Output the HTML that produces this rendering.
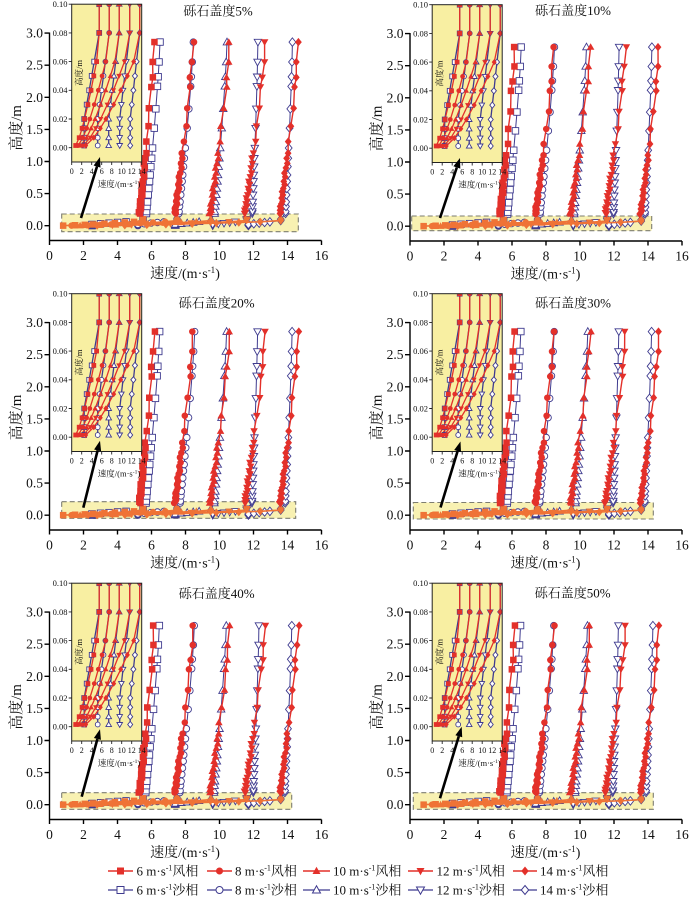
<!DOCTYPE html>
<html><head><meta charset="utf-8">
<style>
html,body{margin:0;padding:0;background:#fff;}
svg{display:block;}
text{font-family:"Liberation Serif","Noto Serif CJK SC","Noto Sans CJK SC",serif;fill:#111;}
</style></head>
<body>
<svg id="s" width="700" height="902" viewBox="0 0 700 902" xmlns="http://www.w3.org/2000/svg">
<defs><clipPath id="ic"><rect x="71.7" y="4.2" width="70" height="157.8"/></clipPath></defs>
<rect width="700" height="902" fill="#fff"/>

<g id="p1" transform="translate(0,0)"><g class="u"></g><g class="o"></g>
<text font-size="13.5" text-anchor="end"><tspan x="43" y="230.2">0.0</tspan><tspan x="43" y="198.1">0.5</tspan><tspan x="43" y="166">1.0</tspan><tspan x="43" y="133.9">1.5</tspan><tspan x="43" y="101.8">2.0</tspan><tspan x="43" y="69.7">2.5</tspan><tspan x="43" y="37.6">3.0</tspan></text>
<text font-size="13.5" text-anchor="middle"><tspan x="49.5" y="260">0</tspan><tspan x="83.5" y="260">2</tspan><tspan x="117.5" y="260">4</tspan><tspan x="151.5" y="260">6</tspan><tspan x="185.5" y="260">8</tspan><tspan x="219.5" y="260">10</tspan><tspan x="253.5" y="260">12</tspan><tspan x="287.5" y="260">14</tspan><tspan x="321.5" y="260">16</tspan></text>
<text font-size="14" text-anchor="middle" x="185" y="278">速度/(m·s<tspan font-size="9" dy="-5">-1</tspan><tspan dy="5">)</tspan></text>
<text font-size="15" text-anchor="middle" transform="translate(21,128) rotate(-90)">高度/m</text>
<text font-size="8.5" text-anchor="end"><tspan x="67.5" y="150.6">0.00</tspan><tspan x="67.5" y="121.9">0.02</tspan><tspan x="67.5" y="93.2">0.04</tspan><tspan x="67.5" y="64.5">0.06</tspan><tspan x="67.5" y="35.8">0.08</tspan><tspan x="67.5" y="7.1">0.10</tspan></text>
<text font-size="8" text-anchor="middle"><tspan x="71.7" y="174">0</tspan><tspan x="81.7" y="174">2</tspan><tspan x="91.7" y="174">4</tspan><tspan x="101.7" y="174">6</tspan><tspan x="111.7" y="174">8</tspan><tspan x="121.7" y="174">10</tspan><tspan x="131.7" y="174">12</tspan><tspan x="141.7" y="174">14</tspan></text>
<text font-size="8.5" text-anchor="middle" x="119" y="187">速度/(m·s<tspan font-size="5.5" dy="-3">-1</tspan><tspan dy="3">)</tspan></text>
<text font-size="8.5" text-anchor="middle" transform="translate(82,73) rotate(-90)">高度/m</text>
<text font-size="13" text-anchor="middle" x="218" y="15.5">砾石盖度5%</text>
</g>

<g id="p2" transform="translate(360.5,0.5)"><g class="u"></g><g class="o"></g>
<text font-size="13.5" text-anchor="end"><tspan x="43" y="230.2">0.0</tspan><tspan x="43" y="198.1">0.5</tspan><tspan x="43" y="166">1.0</tspan><tspan x="43" y="133.9">1.5</tspan><tspan x="43" y="101.8">2.0</tspan><tspan x="43" y="69.7">2.5</tspan><tspan x="43" y="37.6">3.0</tspan></text>
<text font-size="13.5" text-anchor="middle"><tspan x="49.5" y="260">0</tspan><tspan x="83.5" y="260">2</tspan><tspan x="117.5" y="260">4</tspan><tspan x="151.5" y="260">6</tspan><tspan x="185.5" y="260">8</tspan><tspan x="219.5" y="260">10</tspan><tspan x="253.5" y="260">12</tspan><tspan x="287.5" y="260">14</tspan><tspan x="321.5" y="260">16</tspan></text>
<text font-size="14" text-anchor="middle" x="185" y="278">速度/(m·s<tspan font-size="9" dy="-5">-1</tspan><tspan dy="5">)</tspan></text>
<text font-size="15" text-anchor="middle" transform="translate(21,128) rotate(-90)">高度/m</text>
<text font-size="8.5" text-anchor="end"><tspan x="67.5" y="150.6">0.00</tspan><tspan x="67.5" y="121.9">0.02</tspan><tspan x="67.5" y="93.2">0.04</tspan><tspan x="67.5" y="64.5">0.06</tspan><tspan x="67.5" y="35.8">0.08</tspan><tspan x="67.5" y="7.1">0.10</tspan></text>
<text font-size="8" text-anchor="middle"><tspan x="71.7" y="174">0</tspan><tspan x="81.7" y="174">2</tspan><tspan x="91.7" y="174">4</tspan><tspan x="101.7" y="174">6</tspan><tspan x="111.7" y="174">8</tspan><tspan x="121.7" y="174">10</tspan><tspan x="131.7" y="174">12</tspan><tspan x="141.7" y="174">14</tspan></text>
<text font-size="8.5" text-anchor="middle" x="119" y="187">速度/(m·s<tspan font-size="5.5" dy="-3">-1</tspan><tspan dy="3">)</tspan></text>
<text font-size="8.5" text-anchor="middle" transform="translate(82,73) rotate(-90)">高度/m</text>
<text font-size="13" text-anchor="middle" x="212.5" y="14.5">砾石盖度10%</text>
</g>

<g id="p3" transform="translate(0,289.5)"><g class="u"></g><g class="o"></g>
<text font-size="13.5" text-anchor="end"><tspan x="43" y="230.2">0.0</tspan><tspan x="43" y="198.1">0.5</tspan><tspan x="43" y="166">1.0</tspan><tspan x="43" y="133.9">1.5</tspan><tspan x="43" y="101.8">2.0</tspan><tspan x="43" y="69.7">2.5</tspan><tspan x="43" y="37.6">3.0</tspan></text>
<text font-size="13.5" text-anchor="middle"><tspan x="49.5" y="260">0</tspan><tspan x="83.5" y="260">2</tspan><tspan x="117.5" y="260">4</tspan><tspan x="151.5" y="260">6</tspan><tspan x="185.5" y="260">8</tspan><tspan x="219.5" y="260">10</tspan><tspan x="253.5" y="260">12</tspan><tspan x="287.5" y="260">14</tspan><tspan x="321.5" y="260">16</tspan></text>
<text font-size="14" text-anchor="middle" x="185" y="278">速度/(m·s<tspan font-size="9" dy="-5">-1</tspan><tspan dy="5">)</tspan></text>
<text font-size="15" text-anchor="middle" transform="translate(21,128) rotate(-90)">高度/m</text>
<text font-size="8.5" text-anchor="end"><tspan x="67.5" y="150.6">0.00</tspan><tspan x="67.5" y="121.9">0.02</tspan><tspan x="67.5" y="93.2">0.04</tspan><tspan x="67.5" y="64.5">0.06</tspan><tspan x="67.5" y="35.8">0.08</tspan><tspan x="67.5" y="7.1">0.10</tspan></text>
<text font-size="8" text-anchor="middle"><tspan x="71.7" y="174">0</tspan><tspan x="81.7" y="174">2</tspan><tspan x="91.7" y="174">4</tspan><tspan x="101.7" y="174">6</tspan><tspan x="111.7" y="174">8</tspan><tspan x="121.7" y="174">10</tspan><tspan x="131.7" y="174">12</tspan><tspan x="141.7" y="174">14</tspan></text>
<text font-size="8.5" text-anchor="middle" x="119" y="187">速度/(m·s<tspan font-size="5.5" dy="-3">-1</tspan><tspan dy="3">)</tspan></text>
<text font-size="8.5" text-anchor="middle" transform="translate(82,73) rotate(-90)">高度/m</text>
<text font-size="13" text-anchor="middle" x="216.7" y="18">砾石盖度20%</text>
</g>

<g id="p4" transform="translate(360.5,289.5)"><g class="u"></g><g class="o"></g>
<text font-size="13.5" text-anchor="end"><tspan x="43" y="230.2">0.0</tspan><tspan x="43" y="198.1">0.5</tspan><tspan x="43" y="166">1.0</tspan><tspan x="43" y="133.9">1.5</tspan><tspan x="43" y="101.8">2.0</tspan><tspan x="43" y="69.7">2.5</tspan><tspan x="43" y="37.6">3.0</tspan></text>
<text font-size="13.5" text-anchor="middle"><tspan x="49.5" y="260">0</tspan><tspan x="83.5" y="260">2</tspan><tspan x="117.5" y="260">4</tspan><tspan x="151.5" y="260">6</tspan><tspan x="185.5" y="260">8</tspan><tspan x="219.5" y="260">10</tspan><tspan x="253.5" y="260">12</tspan><tspan x="287.5" y="260">14</tspan><tspan x="321.5" y="260">16</tspan></text>
<text font-size="14" text-anchor="middle" x="185" y="278">速度/(m·s<tspan font-size="9" dy="-5">-1</tspan><tspan dy="5">)</tspan></text>
<text font-size="15" text-anchor="middle" transform="translate(21,128) rotate(-90)">高度/m</text>
<text font-size="8.5" text-anchor="end"><tspan x="67.5" y="150.6">0.00</tspan><tspan x="67.5" y="121.9">0.02</tspan><tspan x="67.5" y="93.2">0.04</tspan><tspan x="67.5" y="64.5">0.06</tspan><tspan x="67.5" y="35.8">0.08</tspan><tspan x="67.5" y="7.1">0.10</tspan></text>
<text font-size="8" text-anchor="middle"><tspan x="71.7" y="174">0</tspan><tspan x="81.7" y="174">2</tspan><tspan x="91.7" y="174">4</tspan><tspan x="101.7" y="174">6</tspan><tspan x="111.7" y="174">8</tspan><tspan x="121.7" y="174">10</tspan><tspan x="131.7" y="174">12</tspan><tspan x="141.7" y="174">14</tspan></text>
<text font-size="8.5" text-anchor="middle" x="119" y="187">速度/(m·s<tspan font-size="5.5" dy="-3">-1</tspan><tspan dy="3">)</tspan></text>
<text font-size="8.5" text-anchor="middle" transform="translate(82,73) rotate(-90)">高度/m</text>
<text font-size="13" text-anchor="middle" x="212.5" y="18">砾石盖度30%</text>
</g>

<g id="p5" transform="translate(0,579)"><g class="u"></g><g class="o"></g>
<text font-size="13.5" text-anchor="end"><tspan x="43" y="230.2">0.0</tspan><tspan x="43" y="198.1">0.5</tspan><tspan x="43" y="166">1.0</tspan><tspan x="43" y="133.9">1.5</tspan><tspan x="43" y="101.8">2.0</tspan><tspan x="43" y="69.7">2.5</tspan><tspan x="43" y="37.6">3.0</tspan></text>
<text font-size="13.5" text-anchor="middle"><tspan x="49.5" y="260">0</tspan><tspan x="83.5" y="260">2</tspan><tspan x="117.5" y="260">4</tspan><tspan x="151.5" y="260">6</tspan><tspan x="185.5" y="260">8</tspan><tspan x="219.5" y="260">10</tspan><tspan x="253.5" y="260">12</tspan><tspan x="287.5" y="260">14</tspan><tspan x="321.5" y="260">16</tspan></text>
<text font-size="14" text-anchor="middle" x="185" y="278">速度/(m·s<tspan font-size="9" dy="-5">-1</tspan><tspan dy="5">)</tspan></text>
<text font-size="15" text-anchor="middle" transform="translate(21,128) rotate(-90)">高度/m</text>
<text font-size="8.5" text-anchor="end"><tspan x="67.5" y="150.6">0.00</tspan><tspan x="67.5" y="121.9">0.02</tspan><tspan x="67.5" y="93.2">0.04</tspan><tspan x="67.5" y="64.5">0.06</tspan><tspan x="67.5" y="35.8">0.08</tspan><tspan x="67.5" y="7.1">0.10</tspan></text>
<text font-size="8" text-anchor="middle"><tspan x="71.7" y="174">0</tspan><tspan x="81.7" y="174">2</tspan><tspan x="91.7" y="174">4</tspan><tspan x="101.7" y="174">6</tspan><tspan x="111.7" y="174">8</tspan><tspan x="121.7" y="174">10</tspan><tspan x="131.7" y="174">12</tspan><tspan x="141.7" y="174">14</tspan></text>
<text font-size="8.5" text-anchor="middle" x="119" y="187">速度/(m·s<tspan font-size="5.5" dy="-3">-1</tspan><tspan dy="3">)</tspan></text>
<text font-size="8.5" text-anchor="middle" transform="translate(82,73) rotate(-90)">高度/m</text>
<text font-size="13" text-anchor="middle" x="216.7" y="19">砾石盖度40%</text>
</g>

<g id="p6" transform="translate(360.5,579)"><g class="u"></g><g class="o"></g>
<text font-size="13.5" text-anchor="end"><tspan x="43" y="230.2">0.0</tspan><tspan x="43" y="198.1">0.5</tspan><tspan x="43" y="166">1.0</tspan><tspan x="43" y="133.9">1.5</tspan><tspan x="43" y="101.8">2.0</tspan><tspan x="43" y="69.7">2.5</tspan><tspan x="43" y="37.6">3.0</tspan></text>
<text font-size="13.5" text-anchor="middle"><tspan x="49.5" y="260">0</tspan><tspan x="83.5" y="260">2</tspan><tspan x="117.5" y="260">4</tspan><tspan x="151.5" y="260">6</tspan><tspan x="185.5" y="260">8</tspan><tspan x="219.5" y="260">10</tspan><tspan x="253.5" y="260">12</tspan><tspan x="287.5" y="260">14</tspan><tspan x="321.5" y="260">16</tspan></text>
<text font-size="14" text-anchor="middle" x="185" y="278">速度/(m·s<tspan font-size="9" dy="-5">-1</tspan><tspan dy="5">)</tspan></text>
<text font-size="15" text-anchor="middle" transform="translate(21,128) rotate(-90)">高度/m</text>
<text font-size="8.5" text-anchor="end"><tspan x="67.5" y="150.6">0.00</tspan><tspan x="67.5" y="121.9">0.02</tspan><tspan x="67.5" y="93.2">0.04</tspan><tspan x="67.5" y="64.5">0.06</tspan><tspan x="67.5" y="35.8">0.08</tspan><tspan x="67.5" y="7.1">0.10</tspan></text>
<text font-size="8" text-anchor="middle"><tspan x="71.7" y="174">0</tspan><tspan x="81.7" y="174">2</tspan><tspan x="91.7" y="174">4</tspan><tspan x="101.7" y="174">6</tspan><tspan x="111.7" y="174">8</tspan><tspan x="121.7" y="174">10</tspan><tspan x="131.7" y="174">12</tspan><tspan x="141.7" y="174">14</tspan></text>
<text font-size="8.5" text-anchor="middle" x="119" y="187">速度/(m·s<tspan font-size="5.5" dy="-3">-1</tspan><tspan dy="3">)</tspan></text>
<text font-size="8.5" text-anchor="middle" transform="translate(82,73) rotate(-90)">高度/m</text>
<text font-size="13" text-anchor="middle" x="212.2" y="18.5">砾石盖度50%</text>
</g>

<g id="leg"></g>
<g font-size="13">
<text x="136.5" y="875.5">6 m·s<tspan font-size="8" dy="-5">-1</tspan><tspan dy="5">风相</tspan></text>
<text x="235" y="875.5">8 m·s<tspan font-size="8" dy="-5">-1</tspan><tspan dy="5">风相</tspan></text>
<text x="333" y="875.5">10 m·s<tspan font-size="8" dy="-5">-1</tspan><tspan dy="5">风相</tspan></text>
<text x="436.5" y="875.5">12 m·s<tspan font-size="8" dy="-5">-1</tspan><tspan dy="5">风相</tspan></text>
<text x="540" y="875.5">14 m·s<tspan font-size="8" dy="-5">-1</tspan><tspan dy="5">风相</tspan></text>
<text x="136.5" y="894.5">6 m·s<tspan font-size="8" dy="-5">-1</tspan><tspan dy="5">沙相</tspan></text>
<text x="235" y="894.5">8 m·s<tspan font-size="8" dy="-5">-1</tspan><tspan dy="5">沙相</tspan></text>
<text x="333" y="894.5">10 m·s<tspan font-size="8" dy="-5">-1</tspan><tspan dy="5">沙相</tspan></text>
<text x="436.5" y="894.5">12 m·s<tspan font-size="8" dy="-5">-1</tspan><tspan dy="5">沙相</tspan></text>
<text x="540" y="894.5">14 m·s<tspan font-size="8" dy="-5">-1</tspan><tspan dy="5">沙相</tspan></text>
</g>
</svg>

<script>
(function(){
const RED='#e3302a', ORG='#ef7336', NAV='#3f3b8f';
const X=u=>49.5+17*u, Y=z=>225.7-64.2*z;
const IX=u=>71.7+5*u, IY=z=>147.7-1435*z;
const HI=[0.0015,0.007,0.0135,0.02,0.03,0.04,0.05,0.06,0.08,0.10];
const HMS=[0.19,0.22,0.30,0.37,0.48,0.58,0.69,0.79,0.92,1.05,1.21,1.52,1.82,2.17,2.32,2.55,2.86];
const HMW=[0.19,0.21,0.24,0.27,0.30,0.34,0.38,0.43,0.48,0.53,0.58,0.64,0.69,0.76,0.82,0.90,0.97,1.05,1.13,1.31,1.55,1.83,2.16,2.31,2.55,2.86];
const r0=[0.8,1.3,1.8,2.3,2.8], T=[5.5,7.5,9.5,11.6,13.6], s0=[2.5,5.2,7.4,9.6,11.7];
const Rb=[5.3,7.38,9.44,11.5,13.56], Rt=[6.15,8.45,10.6,12.68,14.64];
const Sb=[5.7,7.65,9.7,11.95,13.85], St=[6.5,8.5,10.42,12.28,14.25];
function sh(z,zt){const t=Math.max(0,Math.min(1,(z-0.19)/(zt-0.19)));return 1-Math.pow(1-t,1.25);}
function sand(k,z,zt){
  if(z<=0.02) return s0[k];
  if(z<=0.08) return s0[k]+(T[k]-s0[k])*(z-0.02)/0.06;
  if(z<=0.1) return T[k];
  if(z<0.19) return T[k]+(Sb[k]-T[k])*(z-0.1)/0.09;
  return Sb[k]+(St[k]-Sb[k])*sh(z,zt);
}
function wind(k,z,zt){
  if(z<=0.1){const h=Math.min(1,Math.pow(Math.max(0,(z-0.0015)/0.0685),0.75));return r0[k]+(T[k]-r0[k])*h;}
  if(z<0.19) return T[k]+(Rb[k]-T[k])*(z-0.1)/0.09;
  return Rb[k]+(Rt[k]-Rb[k])*sh(z,zt);
}
function f(n){return n.toFixed(1);}
function mk(shape,x,y,s,fill,stroke,sw){
  const h=s/2; const a=`fill="${fill}" stroke="${stroke}" stroke-width="${sw}"`;
  switch(shape){
    case 0: return `<rect x="${f(x-h)}" y="${f(y-h)}" width="${s}" height="${s}" ${a}/>`;
    case 1: return `<circle cx="${f(x)}" cy="${f(y)}" r="${h}" ${a}/>`;
    case 2: return `<polygon points="${f(x)},${f(y-h*1.2)} ${f(x+h*1.15)},${f(y+h*0.85)} ${f(x-h*1.15)},${f(y+h*0.85)}" ${a}/>`;
    case 3: return `<polygon points="${f(x)},${f(y+h*1.2)} ${f(x+h*1.15)},${f(y-h*0.85)} ${f(x-h*1.15)},${f(y-h*0.85)}" ${a}/>`;
    default: return `<polygon points="${f(x)},${f(y-h*1.3)} ${f(x+h*1.05)},${f(y)} ${f(x)},${f(y+h*1.3)} ${f(x-h*1.05)},${f(y)}" ${a}/>`;
  }
}
function pl(pts,col,w){return `<polyline points="${pts.map(q=>f(q[0])+','+f(q[1])).join(' ')}" fill="none" stroke="${col}" stroke-width="${w}" stroke-linejoin="round"/>`;}
const P=[
 {id:'p1',zt:2.86,hl:[61.7,214,298.3,231.7],ar:[81,218,100,157],seed:1},
 {id:'p2',zt:2.79,hl:[51.2,215.5,291.2,230.2],ar:[79.5,217.5,99.5,157.5],seed:2},
 {id:'p3',zt:2.86,hl:[61.7,212.2,295.7,228.8],ar:[83.3,218.2,100,151.2],seed:3},
 {id:'p4',zt:2.86,hl:[52.8,213,292.8,229.5],ar:[80,218,100,152],seed:4},
 {id:'p5',zt:2.79,hl:[61.7,213.7,291.7,230.3],ar:[81.7,217.7,100,150.3],seed:5},
 {id:'p6',zt:2.79,hl:[52.8,213.7,292.8,230.3],ar:[79.5,219.3,101.2,147.7],seed:6}
];
P.forEach(p=>{
  const g=document.getElementById(p.id);
  const U=g.querySelector('.u'), O=g.querySelector('.o');
  let u='', o='';
  const [hx1,hy1,hx2,hy2]=p.hl;
  u+=`<rect x="${hx1}" y="${hy1}" width="${hx2-hx1}" height="${hy2-hy1}" fill="#f8f1b2" stroke="#7d7d70" stroke-width="1.1" stroke-dasharray="5,3"/>`;
  const sc=z=>0.19+(z-0.19)*(p.zt-0.19)/(2.86-0.19);
  const HS=HI.concat(HMS.map(sc)), HW=HI.concat(HMW.map(sc));
  let sL='',sM='',wL='',wM='',iSL='',iSM='',iWL='',iWM='';
  for(let k=0;k<5;k++){
    const ps=[],pw=[];
    HS.forEach((z,i)=>{
      let js=0; if(z>=0.19){js=(((i*5+k*3+p.seed*7)%5)-2)*0.02;}
      ps.push([sand(k,z,p.zt)+js,z]);
    });
    HW.forEach((z,i)=>{
      let jw=0; if(z>=0.19){jw=(((i*7+k*11+p.seed*3)%5)-2)*0.025;}
      pw.push([wind(k,z,p.zt)+jw,z]);
    });
    sL+=pl(ps.map(q=>[X(q[0]),Y(q[1])]),NAV,1);
    ps.forEach(q=>{sM+=mk(k,X(q[0]),Y(q[1]),6.5,'#fff',NAV,0.9);});
    const lowW=pw.filter(q=>q[1]<=0.19), hiW=pw.filter(q=>q[1]>=0.19);
    wL+=pl(lowW.map(q=>[X(q[0]),Y(q[1])]),ORG,1.6);
    wL+=pl(hiW.map(q=>[X(q[0]),Y(q[1])]),RED,1.4);
    pw.forEach(q=>{wM+=mk(k,X(q[0]),Y(q[1]),6.5,q[1]<0.15?ORG:RED,'none',0);});
    const ips=ps.filter(q=>q[1]<=0.19), ipw=pw.filter(q=>q[1]<=0.19);
    iSL+=pl(ips.map(q=>[IX(q[0]),IY(q[1])]),NAV,1.3);
    ips.forEach(q=>{if(q[1]<=0.1) iSM+=mk(k,IX(q[0]),IY(q[1]),4.8,'#fff',NAV,0.9);});
    iWL+=pl(ipw.map(q=>[IX(q[0]),IY(q[1])]),RED,1.3);
    ipw.forEach(q=>{if(q[1]<=0.1) iWM+=mk(k,IX(q[0]),IY(q[1]),4.8,RED,'none',0);});
  }
  u+=sL+sM+wL+wM;
  let ax='M49.5,32.5V240.5H321.5';
  for(let v=0;v<=3.001;v+=0.5) ax+=`M44.5,${f(Y(v))}H49.5`;
  for(let x=0;x<=16;x+=2) ax+=`M${f(X(x))},240.5V245`;
  u+=`<path d="${ax}" fill="none" stroke="#000" stroke-width="1.4"/>`;
  U.innerHTML=u;
  o+=`<rect x="71.7" y="4.2" width="70" height="157.8" fill="#f8efa2"/>`;
  o+=`<g clip-path="url(#ic)">${iSL}${iWL}${iSM}${iWM}</g>`;
  o+=`<rect x="71.7" y="4.2" width="70" height="157.8" fill="none" stroke="#222" stroke-width="1"/>`;
  let it='';
  for(let v=0;v<=0.1001;v+=0.02) it+=`M68.7,${f(IY(v))}H71.7`;
  for(let x=0;x<=14;x+=2) it+=`M${f(IX(x))},162V165`;
  o+=`<path d="${it}" fill="none" stroke="#222" stroke-width="0.9"/>`;
  const [ax1,ay1,ax2,ay2]=p.ar;
  const dx=ax2-ax1, dy=ay2-ay1, L=Math.hypot(dx,dy), ux=dx/L, uy=dy/L;
  const bx=ax2-ux*10, by=ay2-uy*10, px=-uy*3.6, py=ux*3.6;
  o+=`<line x1="${ax1}" y1="${ay1}" x2="${f(bx)}" y2="${f(by)}" stroke="#000" stroke-width="2.6"/>`;
  o+=`<polygon points="${ax2},${ay2} ${f(bx+px)},${f(by+py)} ${f(bx-px)},${f(by-py)}" fill="#000"/>`;
  O.innerHTML=o;
});
let lg='';
const lx=[[108,133],[207,232],[303,330],[408,433],[513,537]];
lx.forEach((r,k)=>{
  const c=(r[0]+r[1])/2;
  lg+=`<line x1="${r[0]}" y1="871" x2="${r[1]}" y2="871" stroke="${RED}" stroke-width="1.5"/>`;
  lg+=mk(k,c,871,7,RED,'none',0);
  lg+=`<line x1="${r[0]}" y1="890" x2="${r[1]}" y2="890" stroke="${NAV}" stroke-width="1.2"/>`;
  lg+=mk(k,c,890,7,'#fff',NAV,1);
});
document.getElementById('leg').innerHTML=lg;
})();
</script>
</body></html>
